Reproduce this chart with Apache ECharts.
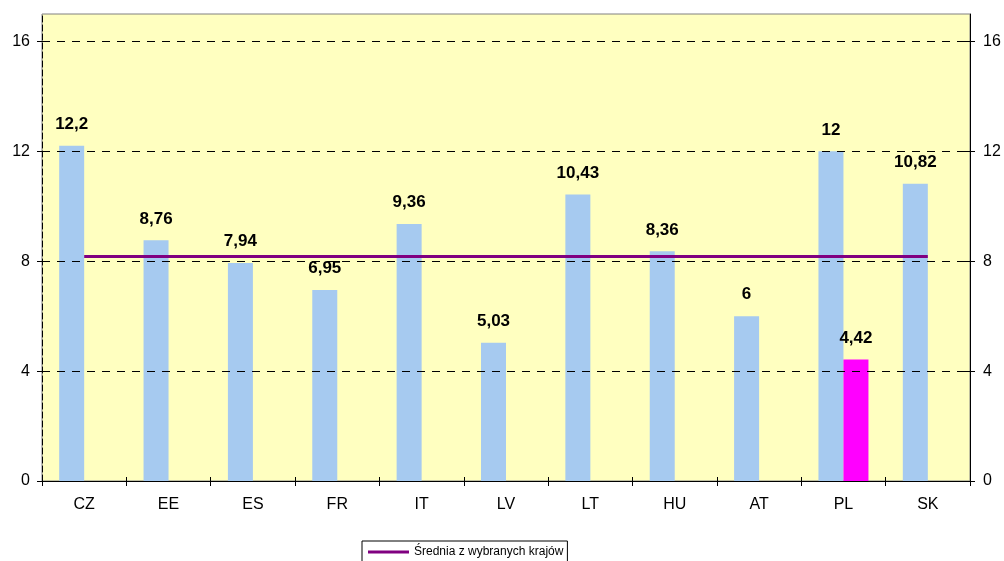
<!DOCTYPE html>
<html>
<head>
<meta charset="utf-8">
<script src="https://cdn.jsdelivr.net/npm/echarts@6/dist/echarts.min.js"></script>
<style>
  html, body { margin: 0; padding: 0; background: #ffffff; }
  #chart { width: 1004px; height: 561px; }
</style>
</head>
<body>
<div id="chart"></div>
<script>
const categories = ['CZ', 'EE', 'ES', 'FR', 'IT', 'LV', 'LT', 'HU', 'AT', 'PL', 'SK'];
const countryValues = [12.2, 8.76, 7.94, 6.95, 9.36, 5.03, 10.43, 8.36, 6, 12, 10.82];
const plHighlight = [null, null, null, null, null, null, null, null, null, 4.42, null];
const averageValue = 8.17;
const averageName = 'Średnia z wybranych krajów';
const yTicks = [0, 4, 8, 12, 16];

const averageLine = categories.map(() => averageValue);
const font = 'Liberation Sans, Arial, sans-serif';
const fmt = p => (p.value == null ? '' : String(p.value).replace('.', ','));

const chart = echarts.init(document.getElementById('chart'), null, { renderer: 'canvas' });

const yAxisBase = {
  type: 'value',
  min: 0,
  max: 17,
  interval: 4,
  axisLabel: { color: '#000', fontSize: 16, fontFamily: font, customValues: yTicks },
  axisTick: { show: true, length: 5, lineStyle: { color: '#000' }, customValues: yTicks },
  splitLine: { show: false }
};

chart.setOption({
  animation: false,
  backgroundColor: '#ffffff',
  textStyle: { fontFamily: font },
  grid: {
    left: 42, right: 34, top: 14, bottom: 80,
    show: true,
    backgroundColor: '#FFFFC0',
    borderColor: '#808080',
    borderWidth: 1
  },
  legend: {
    data: [{ name: averageName, icon: 'rect' }],
    left: 362,
    top: 541,
    padding: [5, 4, 5, 6],
    itemWidth: 41,
    itemHeight: 3,
    itemStyle: { color: '#800080' },
    borderColor: '#000',
    borderWidth: 1,
    backgroundColor: '#fff',
    textStyle: { color: '#000', fontSize: 12, fontFamily: font }
  },
  xAxis: [
    {
      type: 'category',
      data: categories,
      axisLine: { lineStyle: { color: '#000', width: 1 } },
      axisTick: { show: true, interval: 0, length: 5, alignWithLabel: false, lineStyle: { color: '#000' } },
      axisLabel: { color: '#000', fontSize: 16, fontFamily: font, margin: 16, interval: 0 }
    },
    {
      type: 'category',
      data: categories,
      position: 'bottom',
      axisLine: { show: false },
      axisTick: { show: true, inside: true, interval: 0, length: 4, lineStyle: { color: '#000' } },
      axisLabel: { show: false }
    }
  ],
  yAxis: [
    Object.assign({}, yAxisBase, {
      position: 'left',
      axisLine: { show: true, lineStyle: { color: '#000', type: [6, 3], width: 1 } },
      axisLabel: Object.assign({}, yAxisBase.axisLabel, { margin: 12 })
    }),
    Object.assign({}, yAxisBase, {
      position: 'right',
      axisLine: { show: true, lineStyle: { color: '#000', width: 1 } },
      axisLabel: Object.assign({}, yAxisBase.axisLabel, { margin: 13 })
    }),
    Object.assign({}, yAxisBase, {
      position: 'right',
      axisLine: { show: false },
      axisTick: { show: true, inside: true, length: 5, lineStyle: { color: '#000' }, customValues: yTicks },
      axisLabel: { show: false }
    })
  ],
  series: [
    {
      name: 'Kraje',
      type: 'bar',
      data: countryValues,
      barWidth: 25,
      barGap: '0%',
      itemStyle: { color: '#A6CAF0' },
      label: {
        show: true, position: 'top', distance: 13,
        color: '#000', fontWeight: 'bold', fontSize: 17, fontFamily: font,
        formatter: fmt
      },
      markLine: {
        silent: true,
        symbol: 'none',
        label: { show: false },
        lineStyle: { color: '#000', type: [8, 7], width: 1 },
        data: yTicks.filter(v => v > 0).map(v => ({ yAxis: v }))
      },
      z: 2
    },
    {
      name: 'PL',
      type: 'bar',
      data: plHighlight,
      barWidth: 25,
      barGap: '0%',
      itemStyle: { color: '#FF00FF' },
      label: {
        show: true, position: 'top', distance: 13,
        color: '#000', fontWeight: 'bold', fontSize: 17, fontFamily: font,
        formatter: fmt
      },
      z: 2
    },
    {
      name: averageName,
      type: 'line',
      data: averageLine,
      symbol: 'none',
      lineStyle: { color: '#800080', width: 3 },
      itemStyle: { color: '#800080' },
      z: 3
    }
  ]
});
</script>
</body>
</html>
